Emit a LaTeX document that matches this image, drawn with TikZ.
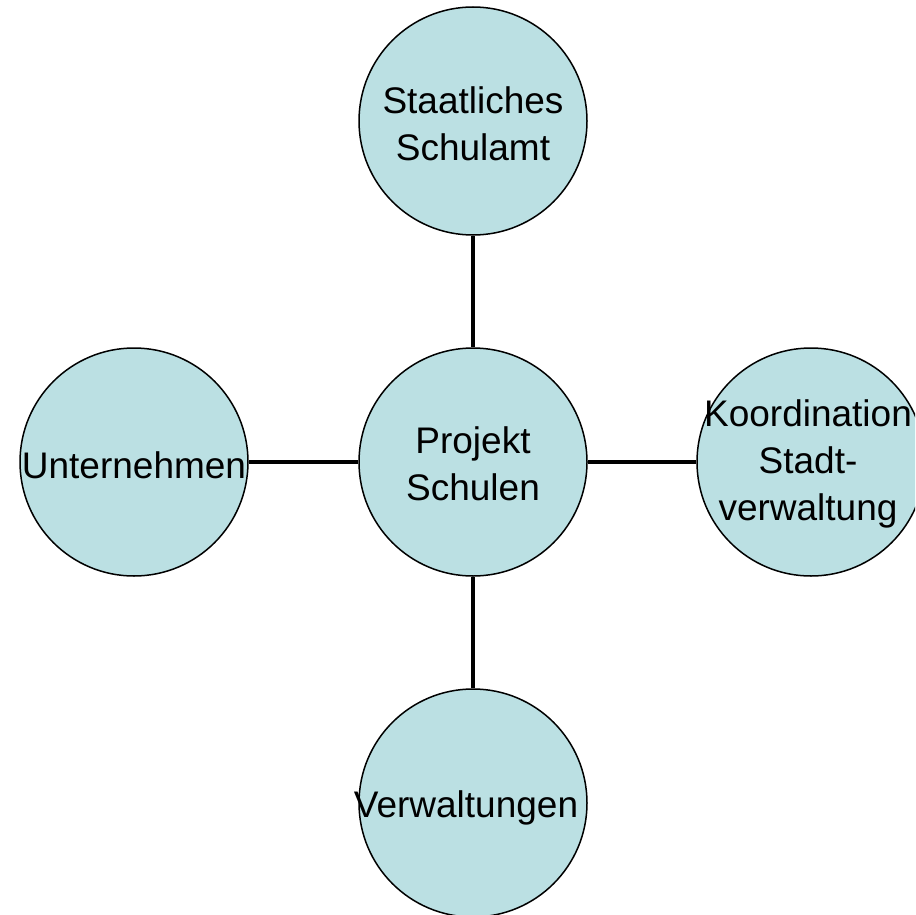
\documentclass[tikz,border=0pt]{standalone}
\usepackage{fontspec}
\setmainfont{Liberation Sans}
\definecolor{ballfill}{RGB}{187,224,227}
\tikzset{
  ball/.style={circle, draw=black, line width=1.5pt, fill=ballfill, minimum size=228pt, inner sep=0pt},
  txt/.style={align=center, font=\fontsize{37pt}{47pt}\selectfont, inner sep=0pt},
  conn/.style={line width=4.5pt, black}
}
\begin{document}
\begin{tikzpicture}[x=1pt, y=-1pt]
\useasboundingbox (0,0) rectangle (915,915);
\clip (0,0) rectangle (915,915);
\node[ball] (c) at (473,462) {};
\node[ball] (t) at (473,121) {};
\node[ball] (l) at (134,462) {};
\node[ball] (r) at (811,462) {};
\node[ball] (b) at (473,803) {};
\draw[conn] (t) -- (c);
\draw[conn] (l) -- (c);
\draw[conn] (r) -- (c);
\draw[conn] (b) -- (c);
\node[txt] (tc) at (473,464) {Projekt\\Schulen};
\node[txt] (tt) at (473,124) {Staatliches\\Schulamt};
\node[txt] (tl) at (134,465) {Unternehmen};
\node[txt] (tr) at (808,464) {Koordination\\Stadt-\\verwaltung};
\node[txt] (tb) at (466,808) {Verwaltungen};
\end{tikzpicture}
\end{document}
